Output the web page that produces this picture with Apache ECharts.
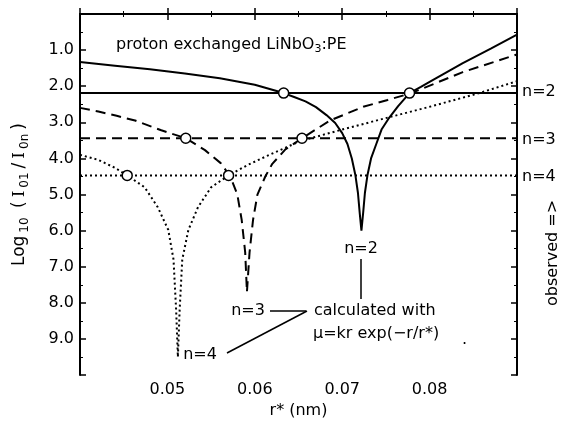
<!DOCTYPE html>
<html>
<head>
<meta charset="utf-8">
<script src="https://cdn.jsdelivr.net/npm/echarts@6/dist/echarts.min.js"></script>
<style>
  html, body { margin: 0; padding: 0; background: #fff; }
  #chart { width: 568px; height: 424px; }
</style>
</head>
<body>
<div id="chart"></div>
<script>
// calculated curves, r* (nm) vs log10(I01/I0n)
const n2X = [0.040, 0.044, 0.048, 0.052, 0.056, 0.060, 0.0633, 0.0645, 0.0658, 0.0670, 0.0682, 0.0692, 0.0700, 0.0706, 0.0711, 0.0715, 0.0718, 0.0720, 0.0722, 0.0724, 0.0726, 0.0729, 0.0733, 0.0739, 0.0745, 0.0753, 0.0764, 0.0777, 0.0790, 0.080, 0.0838, 0.087, 0.090]
const n2Y = [1.33, 1.43, 1.53, 1.65, 1.78, 1.96, 2.19, 2.30, 2.42, 2.58, 2.80, 3.02, 3.30, 3.60, 4.00, 4.45, 4.95, 5.50, 6.00, 5.50, 4.95, 4.45, 4.00, 3.60, 3.20, 2.90, 2.55, 2.19, 2.02, 1.88, 1.36, 0.96, 0.57]

const n3X = [0.040, 0.0421, 0.0442, 0.0463, 0.0493, 0.0521, 0.0543, 0.0561, 0.0572, 0.0580, 0.0585, 0.0589, 0.0591, 0.0594, 0.0598, 0.0603, 0.0612, 0.0620, 0.0635, 0.0654, 0.0686, 0.0724, 0.0752, 0.0778, 0.0838, 0.090]
const n3Y = [2.60, 2.70, 2.82, 2.95, 3.22, 3.44, 3.77, 4.13, 4.50, 5.00, 5.70, 6.60, 7.70, 6.60, 5.70, 5.00, 4.50, 4.15, 3.75, 3.44, 2.95, 2.57, 2.38, 2.20, 1.61, 1.12]

const n4X = [0.040, 0.0421, 0.044, 0.0454, 0.0474, 0.0489, 0.0501, 0.0507, 0.0510, 0.0512, 0.0514, 0.0517, 0.0524, 0.0535, 0.0550, 0.0570, 0.0592, 0.0614, 0.0652, 0.0700, 0.0747, 0.080, 0.0854, 0.090]
const n4Y = [3.90, 4.04, 4.26, 4.47, 4.80, 5.35, 5.98, 6.80, 8.20, 9.50, 8.20, 6.80, 5.98, 5.35, 4.80, 4.47, 4.18, 3.93, 3.52, 3.20, 2.90, 2.57, 2.21, 1.86]

// observed levels (n=2,3,4) and where the curves cross them
const observed = [2.19, 3.44, 4.47]
const crossX = [[0.0633, 0.0777], [0.0521, 0.0654], [0.0454, 0.0570]]

const xMin = 0.04
const xMax = 0.09

const zip = (xs, ys) => xs.map((x, i) => [x, ys[i]])

let chart = echarts.init(document.getElementById('chart'))

const font = 'DejaVu Sans'
const black = '#000'
const txt = '16px DejaVu Sans'

function lineSeries(data, type) {
  return {
    type: 'line',
    data: data,
    showSymbol: false,
    smooth: false,
    silent: true,
    z: 3,
    lineStyle: { color: black, width: 2, type: type, cap: 'butt' }
  }
}

const styles = ['solid', [10, 6], [2, 3]]
const curves = [zip(n2X, n2Y), zip(n3X, n3Y), zip(n4X, n4Y)]

let series = []
curves.forEach((c, i) => series.push(lineSeries(c, styles[i])))
observed.forEach((v, i) => series.push(lineSeries([[xMin, v], [xMax, v]], styles[i])))
series.push({
  type: 'scatter',
  symbol: 'circle',
  symbolSize: 10,
  z: 5,
  silent: true,
  itemStyle: { color: '#fff', borderColor: black, borderWidth: 1.5, opacity: 1 },
  data: crossX.flatMap((xs, i) => xs.map(x => [x, observed[i]]))
})

// axis helpers
const axisLine = { lineStyle: { color: black, width: 2 } }
const tick = { inside: true, length: 6, lineStyle: { color: black, width: 1.5 } }
const minor = { show: true, splitNumber: 2, length: 3, lineStyle: { color: black, width: 1 } }

const option = {
  animation: false,
  grid: { left: 80, top: 14, right: 51, bottom: 44 },
  xAxis: [{
    type: 'value', min: xMin, max: xMax, interval: 0.01,
    axisLine: axisLine, axisTick: tick, minorTick: minor,
    splitLine: { show: false },
    axisLabel: {
      color: black, fontFamily: font, fontSize: 16, margin: 7,
      formatter: v => (v > 0.045 && v < 0.085) ? v.toFixed(2) : ''
    },
    name: 'r* (nm)', nameLocation: 'middle', nameGap: 26,
    nameTextStyle: { color: black, fontFamily: font, fontSize: 16 }
  }, {
    type: 'value', min: xMin, max: xMax, interval: 0.01, position: 'top',
    axisLine: axisLine, axisTick: tick, minorTick: minor,
    splitLine: { show: false }, axisLabel: { show: false }
  }],
  yAxis: [{
    type: 'value', inverse: true, min: 0, max: 10, interval: 1,
    axisLine: axisLine, axisTick: tick, minorTick: minor,
    splitLine: { show: false },
    axisLabel: {
      color: black, fontFamily: font, fontSize: 16, margin: 6,
      formatter: v => (v >= 1 && v <= 9) ? v.toFixed(1) : ''
    },
    name: '{a|Log}{s|10}{a| (}{i|I}{s|01}{a|/}{i|I}{s|0n}{a|)}',
    nameLocation: 'middle', nameGap: 49, nameRotate: 90,
    nameTextStyle: {
      rich: {
        a: { fontFamily: font, fontSize: 17, color: black, lineHeight: 22, padding: [0, 2, 0, 2] },
        i: { fontFamily: 'DejaVu Serif', fontSize: 17, color: black, lineHeight: 22, padding: [0, 2, 0, 2] },
        s: { fontFamily: font, fontSize: 12, color: black, lineHeight: 12, verticalAlign: 'bottom', padding: [0, 2, 0, 1] }
      }
    }
  }, {
    type: 'value', inverse: true, min: 0, max: 10, interval: 1, position: 'right',
    axisLine: axisLine, axisTick: tick, minorTick: minor,
    splitLine: { show: false }, axisLabel: { show: false }
  }],
  series: series,
  graphic: [
    {
      type: 'text', x: 116, y: 45,
      style: {
        text: '{a|proton exchanged LiNbO}{s|3}{a|:PE}',
        verticalAlign: 'middle',
        rich: {
          a: { fontFamily: font, fontSize: 16, fill: black, lineHeight: 20 },
          s: { fontFamily: font, fontSize: 11, fill: black, lineHeight: 11, verticalAlign: 'bottom' }
        }
      }
    },
    { type: 'text', x: 522, y: 92, style: { text: 'n=2', font: txt, fill: black, verticalAlign: 'middle' } },
    { type: 'text', x: 522, y: 140, style: { text: 'n=3', font: txt, fill: black, verticalAlign: 'middle' } },
    { type: 'text', x: 522, y: 177, style: { text: 'n=4', font: txt, fill: black, verticalAlign: 'middle' } },
    {
      type: 'text', x: 553, y: 253, rotation: Math.PI / 2,
      style: { text: 'observed =>', font: txt, fill: black, align: 'center', verticalAlign: 'middle' }
    },
    { type: 'text', x: 361, y: 249, style: { text: 'n=2', font: txt, fill: black, align: 'center', verticalAlign: 'middle' } },
    { type: 'text', x: 248, y: 311, style: { text: 'n=3', font: txt, fill: black, align: 'center', verticalAlign: 'middle' } },
    { type: 'text', x: 200, y: 355, style: { text: 'n=4', font: txt, fill: black, align: 'center', verticalAlign: 'middle' } },
    { type: 'text', x: 314, y: 311, style: { text: 'calculated with', font: txt, fill: black, verticalAlign: 'middle' } },
    { type: 'text', x: 313, y: 334, style: { text: 'μ=kr exp(−r/r*)', font: txt, fill: black, verticalAlign: 'middle' } },
    { type: 'text', x: 462, y: 340, style: { text: '.', font: txt, fill: black, verticalAlign: 'middle' } },
    { type: 'line', shape: { x1: 361, y1: 259, x2: 361, y2: 299 }, style: { stroke: black, lineWidth: 1.5 } },
    { type: 'line', shape: { x1: 270, y1: 311, x2: 306, y2: 311 }, style: { stroke: black, lineWidth: 1.5 } },
    { type: 'line', shape: { x1: 227, y1: 353, x2: 307, y2: 311 }, style: { stroke: black, lineWidth: 1.5 } }
  ]
}

chart.setOption(option)
</script>
</body>
</html>
